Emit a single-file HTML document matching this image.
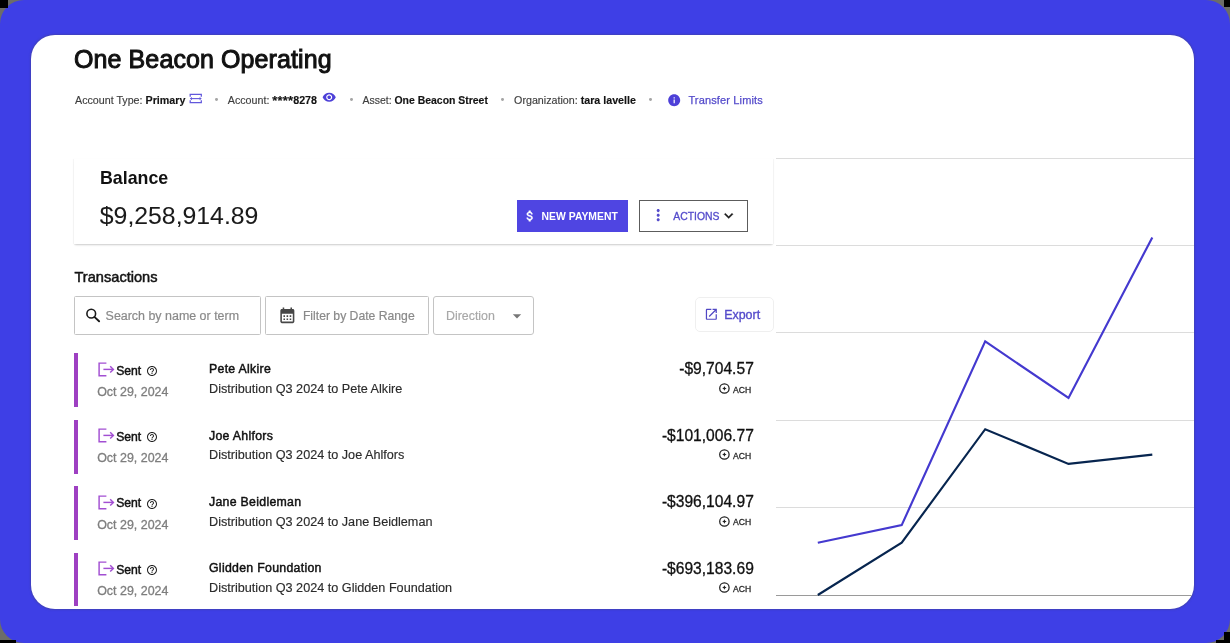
<!DOCTYPE html>
<html><head><meta charset="utf-8">
<style>
*{margin:0;padding:0;box-sizing:border-box}
html,body{width:1230px;height:643px;overflow:hidden;background:#6d6d68}
body{font-family:"Liberation Sans",sans-serif;position:relative}
#bg{position:absolute;left:0;top:0;width:1230px;height:643px;background:#3e3fe6;border-radius:24px}
#card{position:absolute;left:30.7px;top:35.4px;width:1163.8px;height:573.2px;background:#fff;border-radius:24px;overflow:hidden;box-shadow:0 0 1.5px 0.5px rgba(70,70,110,.35)}
#in{position:absolute;left:-30.7px;top:-35.4px;width:1230px;height:643px;will-change:transform}
.t{position:absolute;white-space:nowrap;line-height:1}
.a{position:absolute;display:block}
svg.a{overflow:visible}
.b{font-weight:bold}
.box{position:absolute;border:1px solid #c4c4c4;border-radius:1.5px;background:#fff}
</style></head><body>
<div id="bg"></div>
<div class="a" style="left:0;top:0;width:8px;height:8px;background:#000"></div><div class="a" style="right:0;top:0;width:6px;height:7px;background:#000"></div><div class="a" style="left:0;bottom:0;width:16px;height:3px;background:#000"></div><div class="a" style="right:0;bottom:0;width:6px;height:11px;background:#000"></div><div class="a" style="right:0;bottom:0;width:14px;height:3px;background:#000"></div>
<div id="card"><div id="in">
<svg class="a" style="left:0;top:0" width="1230" height="643" viewBox="0 0 1230 643"><line x1="776" y1="158.5" x2="1230" y2="158.5" stroke="#dcdcdc" stroke-width="1"/><line x1="776" y1="245.5" x2="1230" y2="245.5" stroke="#dcdcdc" stroke-width="1"/><line x1="776" y1="332.5" x2="1230" y2="332.5" stroke="#dcdcdc" stroke-width="1"/><line x1="776" y1="420.5" x2="1230" y2="420.5" stroke="#dcdcdc" stroke-width="1"/><line x1="776" y1="507.5" x2="1230" y2="507.5" stroke="#dcdcdc" stroke-width="1"/><line x1="776" y1="595.5" x2="1230" y2="595.5" stroke="#9a9a9a" stroke-width="1"/><polyline fill="none" stroke="#07254f" stroke-width="2.15" stroke-linejoin="miter" points="817.8,595 901.7,542.7 985.2,429.2 1068.5,463.9 1152.3,454.6"/><polyline fill="none" stroke="#4439cf" stroke-width="2.15" stroke-linejoin="miter" points="817.8,542.7 901.7,525.1 985.2,341.4 1068.5,398 1152.3,237.4"/></svg>
<div class="t" style="left:74.00px;top:47.34px;font-size:25px;color:#111;-webkit-text-stroke:1px #111;letter-spacing:0.1px;">One Beacon Operating</div>
<div class="t" style="left:75.00px;top:94.94px;font-size:10.7px;color:#3d3d3d;-webkit-text-stroke-width:0.15px;">Account Type: <b style="color:#141414">Primary</b></div>
<svg class="a" style="left:189px;top:93px" width="14" height="11" viewBox="0 0 14 11">
<g fill="none" stroke="#6258dc" stroke-width="1.25">
<path d="M1.2 3.7V1.3h11.1v2.4"/><path d="M1.2 7.3v2.4h11.1V7.3"/></g>
<path d="M1.6 5.6h10.4" stroke="#6258dc" stroke-width="1.1"/>
<path fill="#6258dc" d="M0.9 5.6l2.1-1.7v3.4zM12.7 5.6l-2.1-1.7v3.4z"/>
</svg>
<div class="a" style="left:215.3px;top:98.0px;width:2.8px;height:2.8px;border-radius:50%;background:#a5a5a5"></div>
<div class="t" style="left:227.80px;top:94.94px;font-size:10.7px;color:#3d3d3d;-webkit-text-stroke-width:0.15px;">Account: <b style="color:#141414"><span style="font-size:13px;line-height:0;letter-spacing:0.15px;position:relative;top:0.8px">****</span>8278</b></div>
<svg class="a" style="left:322.20px;top:89.70px" width="14.4" height="14.4" viewBox="0 0 24 24"><path fill="#4d40d8" d="M12 4.5C7 4.5 2.73 7.61 1 12c1.730 4.39 6 7.5 11 7.5s9.27-3.11 11-7.5c-1.73-4.39-6-7.5-11-7.5zM12 17c-2.76 0-5-2.24-5-5s2.24-5 5-5 5 2.24 5 5-2.24 5-5 5zm0-8c-1.66 0-3 1.34-3 3s1.34 3 3 3 3-1.34 3-3-1.34-3-3-3z"/></svg>
<div class="a" style="left:350.0px;top:98.0px;width:2.8px;height:2.8px;border-radius:50%;background:#a5a5a5"></div>
<div class="t" style="left:362.60px;top:95.75px;font-size:10.45px;color:#3d3d3d;-webkit-text-stroke-width:0.15px;">Asset: <b style="color:#141414">One Beacon Street</b></div>
<div class="a" style="left:501.4px;top:98.0px;width:2.8px;height:2.8px;border-radius:50%;background:#a5a5a5"></div>
<div class="t" style="left:514.10px;top:94.94px;font-size:10.7px;color:#3d3d3d;-webkit-text-stroke-width:0.15px;">Organization: <b style="color:#141414">tara lavelle</b></div>
<div class="a" style="left:648.8px;top:98.0px;width:2.8px;height:2.8px;border-radius:50%;background:#a5a5a5"></div>
<svg class="a" style="left:667.20px;top:92.50px" width="14.4" height="14.4" viewBox="0 0 24 24"><path fill="#4d40d8" d="M12 2C6.48 2 2 6.48 2 12s4.48 10 10 10 10-4.48 10-10S17.52 2 12 2zm1 15h-2v-6h2v6zm0-8h-2V7h2v2z"/></svg>
<div class="t" style="left:688.40px;top:94.99px;font-size:11.0px;color:#544bcb;letter-spacing:0.15px;-webkit-text-stroke:0.25px #544bcb;">Transfer Limits</div>
<div class="a" style="left:74px;top:159px;width:699px;height:85px;background:#fff;box-shadow:0 2px 2px -1px rgba(0,0,0,.16),0 1px 1px 0 rgba(0,0,0,.05),1px 0 1px 0 rgba(0,0,0,.035),-1px 0 1px 0 rgba(0,0,0,.035)"></div>
<div class="t" style="left:100.00px;top:170.43px;font-size:17.8px;color:#111;font-weight:bold;">Balance</div>
<div class="t" style="left:99.80px;top:204.41px;font-size:24.8px;color:#1a1a1a;-webkit-text-stroke:0.05px #1a1a1a;">$9,258,914.89</div>
<div class="a" style="left:517px;top:200px;width:111px;height:31.5px;background:#4f45e2"></div>
<svg class="a" style="left:523.2px;top:209.1px" width="14" height="14" viewBox="0 0 24 24"><path fill="#fff" stroke="#fff" stroke-width="0.7" d="M11.8 10.9c-2.27-.59-3-1.2-3-2.150 0-1.09 1.01-1.85 2.7-1.85 1.78 0 2.44.85 2.5 2.1h2.21c-.07-1.72-1.12-3.3-3.21-3.81V3h-3v2.16c-1.94.42-3.5 1.68-3.5 3.61 0 2.31 1.91 3.46 4.7 4.13 2.5.6 3 1.48 3 2.41 0 .69-.49 1.79-2.7 1.79-2.06 0-2.87-.92-2.98-2.1h-2.2c.12 2.19 1.76 3.42 3.68 3.83V21h3v-2.15c1.95-.37 3.5-1.5 3.5-3.55 0-2.84-2.43-3.81-4.7-4.4z"/></svg>
<div class="t" style="left:541.60px;top:211.80px;font-size:10.4px;color:#fff;font-weight:bold;">NEW PAYMENT</div>
<div class="a" style="left:639px;top:200px;width:109px;height:31.5px;border:1px solid #5c5c5c"></div>
<svg class="a" style="left:649.30px;top:206.10px" width="18.4" height="18.4" viewBox="0 0 24 24"><path fill="#544bcb" d="M12 8c1.1 0 2-.9 2-2s-.9-2-2-2-2 .9-2 2 .9 2 2 2zm0 2c-1.1 0-2 .9-2 2s.9 2 2 2 2-.9 2-2-.9-2-2-2zm0 6c-1.1 0-2 .9-2 2s.9 2 2 2 2-.9 2-2-.9-2-2-2z"/></svg>
<div class="t" style="left:673.30px;top:211.80px;font-size:10.4px;color:#544bcb;-webkit-text-stroke:0.3px #544bcb;">ACTIONS</div>
<svg class="a" style="left:720.05px;top:206.8px" width="17.4" height="17.4" viewBox="0 0 24 24"><path fill="#1e1e1e" stroke="#1e1e1e" stroke-width="0.5" d="M16.59 8.59L12 13.17 7.41 8.59 6 10l6 6 6-6z"/></svg>
<div class="t" style="left:74.50px;top:270.44px;font-size:14.6px;color:#141414;-webkit-text-stroke:0.5px #141414;">Transactions</div>
<div class="box" style="left:74px;top:296px;width:187px;height:39px"></div>
<svg class="a" style="left:80px;top:302px" width="24" height="24" viewBox="80 302 24 24"><circle cx="91.25" cy="313.65" r="4.35" fill="none" stroke="#1a1a1a" stroke-width="1.6"/><path d="M94.4 316.9L99.1 321.3" stroke="#1a1a1a" stroke-width="1.9" stroke-linecap="round"/></svg>
<div class="t" style="left:105.60px;top:309.86px;font-size:12.45px;color:#8a8a8a;-webkit-text-stroke:0.2px #8a8a8a;">Search by name or term</div>
<div class="box" style="left:265px;top:296px;width:164px;height:39px"></div>
<svg class="a" style="left:278.40px;top:306.10px" width="18.7" height="18.7" viewBox="0 0 24 24"><path fill="#474747" d="M19 4h-1V2h-2v2H8V2H6v2H5c-1.11 0-1.99.9-1.99 2L3 20c0 1.1.89 2 2 2h14c1.1 0 2-.9 2-2V6c0-1.1-.9-2-2-2zm0 16H5V10h14v10zM9 14H7v-2h2v2zm4 0h-2v-2h2v2zm4 0h-2v-2h2v2zm-8 4H7v-2h2v2zm4 0h-2v-2h2v2zm4 0h-2v-2h2v2z"/></svg>
<div class="t" style="left:302.90px;top:310.07px;font-size:12.2px;color:#8a8a8a;-webkit-text-stroke:0.2px #8a8a8a;">Filter by Date Range</div>
<div class="box" style="left:433px;top:296px;width:101px;height:39px;border-radius:3px"></div>
<div class="t" style="left:446.00px;top:309.70px;font-size:12.4px;color:#a8a8a8;-webkit-text-stroke:0.15px #a8a8a8;">Direction</div>
<svg class="a" style="left:507.40px;top:306.00px" width="20" height="20" viewBox="0 0 24 24"><path fill="#777" d="M7 10l5 5 5-5z"/></svg>
<div class="a" style="left:694.5px;top:296.5px;width:79px;height:35px;border:1px solid #efefef;border-radius:5px"></div>
<svg class="a" style="left:703.60px;top:306.90px" width="14.7" height="14.7" viewBox="0 0 24 24"><path fill="#5047c4" d="M19 19H5V5h7V3H5c-1.11 0-2 .9-2 2v14c0 1.1.89 2 2 2h14c1.1 0 2-.9 2-2v-7h-2v7zM14 3v2h3.59l-9.83 9.83 1.41 1.41L19 6.41V10h2V3h-7z"/></svg>
<div class="t" style="left:724.20px;top:309.06px;font-size:12.45px;color:#544bcb;-webkit-text-stroke:0.35px #544bcb;">Export</div>
<div class="a" style="left:74px;top:353.30px;width:4px;height:53.8px;background:#9e40c2"></div>
<svg class="a" style="left:96px;top:360.00px" width="20" height="18" viewBox="96 360 20 18"><g fill="none" stroke="#a24fd2" stroke-width="1.45"><path d="M106.4 363.1H99.1V375.7H106.4"/><path d="M103.4 369.4H113.2"/><path d="M110.2 366.2L113.4 369.4 110.2 372.6"/></g></svg>
<div class="t" style="left:116.20px;top:364.57px;font-size:12.2px;color:#111;-webkit-text-stroke:0.45px #111;">Sent</div>
<svg class="a" style="left:145.80px;top:364.90px" width="12" height="12" viewBox="0 0 24 24"><path fill="#222" d="M11 18h2v-2h-2v2zm1-16C6.48 2 2 6.48 2 12s4.48 10 10 10 10-4.48 10-10S17.52 2 12 2zm0 18c-4.41 0-8-3.59-8-8s3.59-8 8-8 8 3.59 8 8-3.59 8-8 8zm0-14c-2.21 0-4 1.790-4 4h2c0-1.1.9-2 2-2s2 .9 2 2c0 2-3 1.75-3 5h2c0-2.25 3-2.5 3-5 0-2.21-1.79-4-4-4z"/></svg>
<div class="t" style="left:97.20px;top:385.66px;font-size:12.45px;color:#7e7e7e;-webkit-text-stroke:0.3px #7e7e7e;">Oct 29, 2024</div>
<div class="t" style="left:209.00px;top:363.19px;font-size:12.3px;color:#111;-webkit-text-stroke:0.45px #111;letter-spacing:0.3px;">Pete Alkire</div>
<div class="t" style="left:209.00px;top:382.79px;font-size:12.65px;color:#2b2b2b;-webkit-text-stroke:0.15px #2b2b2b;">Distribution Q3 2024 to Pete Alkire</div>
<div class="t" style="right:476.20px;top:361.29px;font-size:15.6px;color:#111;-webkit-text-stroke:0.3px #111;">-$9,704.57</div>
<svg class="a" style="left:718px;top:382.00px" width="13" height="13" viewBox="0 0 13 13"><circle cx="6.4" cy="6.5" r="4.7" fill="none" stroke="#1e1e1e" stroke-width="1.25"/><path fill="#1e1e1e" d="M6.4 4.3L7.1 5.8 8.6 6.5 7.1 7.2 6.4 8.7 5.7 7.2 4.2 6.5 5.7 5.8z"/></svg>
<div class="t" style="right:478.90px;top:385.62px;font-size:8.6px;color:#2a2a2a;-webkit-text-stroke:0.3px #2a2a2a;">ACH</div>
<div class="a" style="left:74px;top:419.72px;width:4px;height:53.8px;background:#9e40c2"></div>
<svg class="a" style="left:96px;top:426.42px" width="20" height="18" viewBox="96 360 20 18"><g fill="none" stroke="#a24fd2" stroke-width="1.45"><path d="M106.4 363.1H99.1V375.7H106.4"/><path d="M103.4 369.4H113.2"/><path d="M110.2 366.2L113.4 369.4 110.2 372.6"/></g></svg>
<div class="t" style="left:116.20px;top:430.99px;font-size:12.2px;color:#111;-webkit-text-stroke:0.45px #111;">Sent</div>
<svg class="a" style="left:145.80px;top:431.32px" width="12" height="12" viewBox="0 0 24 24"><path fill="#222" d="M11 18h2v-2h-2v2zm1-16C6.48 2 2 6.48 2 12s4.48 10 10 10 10-4.48 10-10S17.52 2 12 2zm0 18c-4.41 0-8-3.59-8-8s3.59-8 8-8 8 3.59 8 8-3.59 8-8 8zm0-14c-2.21 0-4 1.790-4 4h2c0-1.1.9-2 2-2s2 .9 2 2c0 2-3 1.75-3 5h2c0-2.25 3-2.5 3-5 0-2.21-1.79-4-4-4z"/></svg>
<div class="t" style="left:97.20px;top:452.08px;font-size:12.45px;color:#7e7e7e;-webkit-text-stroke:0.3px #7e7e7e;">Oct 29, 2024</div>
<div class="t" style="left:209.00px;top:429.61px;font-size:12.3px;color:#111;-webkit-text-stroke:0.45px #111;letter-spacing:0.3px;">Joe Ahlfors</div>
<div class="t" style="left:209.00px;top:449.21px;font-size:12.65px;color:#2b2b2b;-webkit-text-stroke:0.15px #2b2b2b;">Distribution Q3 2024 to Joe Ahlfors</div>
<div class="t" style="right:476.20px;top:427.71px;font-size:15.6px;color:#111;-webkit-text-stroke:0.3px #111;">-$101,006.77</div>
<svg class="a" style="left:718px;top:448.42px" width="13" height="13" viewBox="0 0 13 13"><circle cx="6.4" cy="6.5" r="4.7" fill="none" stroke="#1e1e1e" stroke-width="1.25"/><path fill="#1e1e1e" d="M6.4 4.3L7.1 5.8 8.6 6.5 7.1 7.2 6.4 8.7 5.7 7.2 4.2 6.5 5.7 5.8z"/></svg>
<div class="t" style="right:478.90px;top:452.04px;font-size:8.6px;color:#2a2a2a;-webkit-text-stroke:0.3px #2a2a2a;">ACH</div>
<div class="a" style="left:74px;top:486.14px;width:4px;height:53.8px;background:#9e40c2"></div>
<svg class="a" style="left:96px;top:492.84px" width="20" height="18" viewBox="96 360 20 18"><g fill="none" stroke="#a24fd2" stroke-width="1.45"><path d="M106.4 363.1H99.1V375.7H106.4"/><path d="M103.4 369.4H113.2"/><path d="M110.2 366.2L113.4 369.4 110.2 372.6"/></g></svg>
<div class="t" style="left:116.20px;top:497.41px;font-size:12.2px;color:#111;-webkit-text-stroke:0.45px #111;">Sent</div>
<svg class="a" style="left:145.80px;top:497.74px" width="12" height="12" viewBox="0 0 24 24"><path fill="#222" d="M11 18h2v-2h-2v2zm1-16C6.48 2 2 6.48 2 12s4.48 10 10 10 10-4.48 10-10S17.52 2 12 2zm0 18c-4.41 0-8-3.59-8-8s3.59-8 8-8 8 3.59 8 8-3.59 8-8 8zm0-14c-2.21 0-4 1.790-4 4h2c0-1.1.9-2 2-2s2 .9 2 2c0 2-3 1.75-3 5h2c0-2.25 3-2.5 3-5 0-2.21-1.79-4-4-4z"/></svg>
<div class="t" style="left:97.20px;top:518.50px;font-size:12.45px;color:#7e7e7e;-webkit-text-stroke:0.3px #7e7e7e;">Oct 29, 2024</div>
<div class="t" style="left:209.00px;top:496.03px;font-size:12.3px;color:#111;-webkit-text-stroke:0.45px #111;letter-spacing:0.3px;">Jane Beidleman</div>
<div class="t" style="left:209.00px;top:515.63px;font-size:12.65px;color:#2b2b2b;-webkit-text-stroke:0.15px #2b2b2b;">Distribution Q3 2024 to Jane Beidleman</div>
<div class="t" style="right:476.20px;top:494.13px;font-size:15.6px;color:#111;-webkit-text-stroke:0.3px #111;">-$396,104.97</div>
<svg class="a" style="left:718px;top:514.84px" width="13" height="13" viewBox="0 0 13 13"><circle cx="6.4" cy="6.5" r="4.7" fill="none" stroke="#1e1e1e" stroke-width="1.25"/><path fill="#1e1e1e" d="M6.4 4.3L7.1 5.8 8.6 6.5 7.1 7.2 6.4 8.7 5.7 7.2 4.2 6.5 5.7 5.8z"/></svg>
<div class="t" style="right:478.90px;top:518.46px;font-size:8.6px;color:#2a2a2a;-webkit-text-stroke:0.3px #2a2a2a;">ACH</div>
<div class="a" style="left:74px;top:552.56px;width:4px;height:53.8px;background:#9e40c2"></div>
<svg class="a" style="left:96px;top:559.26px" width="20" height="18" viewBox="96 360 20 18"><g fill="none" stroke="#a24fd2" stroke-width="1.45"><path d="M106.4 363.1H99.1V375.7H106.4"/><path d="M103.4 369.4H113.2"/><path d="M110.2 366.2L113.4 369.4 110.2 372.6"/></g></svg>
<div class="t" style="left:116.20px;top:563.83px;font-size:12.2px;color:#111;-webkit-text-stroke:0.45px #111;">Sent</div>
<svg class="a" style="left:145.80px;top:564.16px" width="12" height="12" viewBox="0 0 24 24"><path fill="#222" d="M11 18h2v-2h-2v2zm1-16C6.48 2 2 6.48 2 12s4.48 10 10 10 10-4.48 10-10S17.52 2 12 2zm0 18c-4.41 0-8-3.59-8-8s3.59-8 8-8 8 3.59 8 8-3.59 8-8 8zm0-14c-2.21 0-4 1.790-4 4h2c0-1.1.9-2 2-2s2 .9 2 2c0 2-3 1.75-3 5h2c0-2.25 3-2.5 3-5 0-2.21-1.79-4-4-4z"/></svg>
<div class="t" style="left:97.20px;top:584.92px;font-size:12.45px;color:#7e7e7e;-webkit-text-stroke:0.3px #7e7e7e;">Oct 29, 2024</div>
<div class="t" style="left:209.00px;top:562.45px;font-size:12.3px;color:#111;-webkit-text-stroke:0.45px #111;letter-spacing:0.3px;">Glidden Foundation</div>
<div class="t" style="left:209.00px;top:582.05px;font-size:12.65px;color:#2b2b2b;-webkit-text-stroke:0.15px #2b2b2b;">Distribution Q3 2024 to Glidden Foundation</div>
<div class="t" style="right:476.20px;top:560.55px;font-size:15.6px;color:#111;-webkit-text-stroke:0.3px #111;">-$693,183.69</div>
<svg class="a" style="left:718px;top:581.26px" width="13" height="13" viewBox="0 0 13 13"><circle cx="6.4" cy="6.5" r="4.7" fill="none" stroke="#1e1e1e" stroke-width="1.25"/><path fill="#1e1e1e" d="M6.4 4.3L7.1 5.8 8.6 6.5 7.1 7.2 6.4 8.7 5.7 7.2 4.2 6.5 5.7 5.8z"/></svg>
<div class="t" style="right:478.90px;top:584.88px;font-size:8.6px;color:#2a2a2a;-webkit-text-stroke:0.3px #2a2a2a;">ACH</div>
</div></div>
</body></html>
